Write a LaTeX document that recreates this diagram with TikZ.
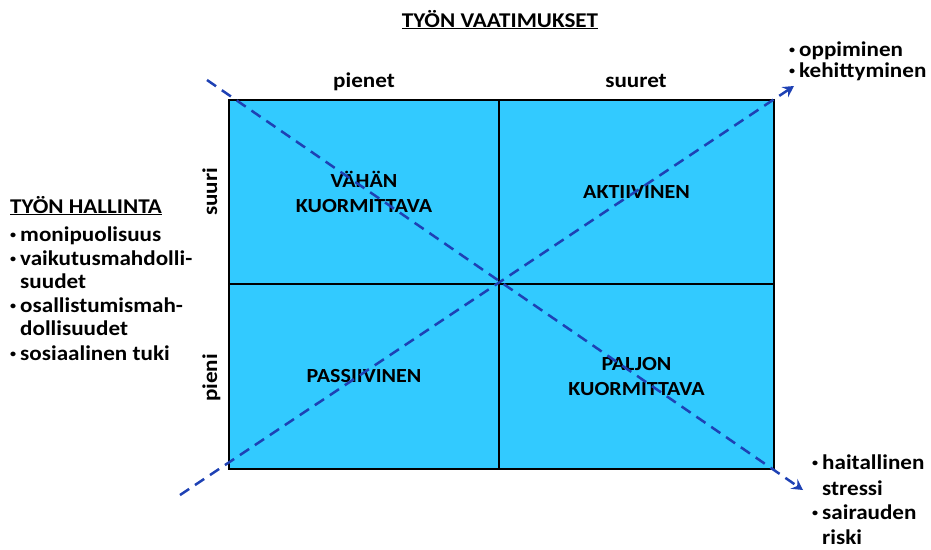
\documentclass[tikz,border=0pt]{standalone}
\usepackage{fontspec}
\setmainfont{Carlito}[FakeStretch=1.1]
\usetikzlibrary{arrows.meta,positioning}
\definecolor{sky}{RGB}{50,202,255}
\definecolor{navy}{RGB}{30,65,180}
\newcommand{\bul}{\raisebox{0.25ex}{\fontsize{11}{11}\selectfont•}\hspace{4pt}}
\tikzset{
  >={Stealth[length=11pt,width=12pt,inset=4pt]},
  quad/.style={draw=black,fill=sky,line width=1.6pt,inner sep=0pt,align=center,
    font=\bfseries\fontsize{20}{25}\selectfont},
  lbl/.style={font=\bfseries\fontsize{21}{25}\selectfont,inner sep=0pt,
    text height=14pt,text depth=4pt},
  item/.style={lbl,anchor=west},
  diag/.style={->,draw=navy,line width=2.5pt,dash pattern=on 11pt off 7pt},
}

\begin{document}
\begin{tikzpicture}[x=1pt,y=-1pt]
    \useasboundingbox (0,0) rectangle (931,549);
    % the four fields
    \node[quad,minimum width=270pt,minimum height=184pt] (q1) at (364,192) {VÄHÄN\\KUORMITTAVA};
    \node[quad,minimum width=275pt,minimum height=184pt] (q2) at (636.5,192) {AKTIIVINEN};
    \node[quad,minimum width=270pt,minimum height=185pt] (q3) at (364,376.5) {PASSIIVINEN};
    \node[quad,minimum width=275pt,minimum height=185pt] (q4) at (636.5,376.5) {PALJON\\KUORMITTAVA};
    % axis labels
    \node[lbl] (title) at (500,22) {\underline{TYÖN VAATIMUKSET}};
    \node[lbl] (pienet) at (364,82) {pienet};
    \node[lbl] (suuret) at (636,82) {suuret};
    \node[lbl,rotate=90] (suuri) at (212,192) {suuri};
    \node[lbl,rotate=90] (pieni) at (212,378) {pieni};
    % diagonals
    \coordinate (d1) at (207,80);
    \coordinate (d2) at (803,490);
    \coordinate (e1) at (180,495);
    \coordinate (e2) at (794,86);
    \draw[diag] (d1) -- (d2);
    \draw[diag] (e1) -- (e2);
    % left list
    \node[item] (hal) at (10,208) {\underline{TYÖN HALLINTA}};
    \foreach \t/\y [count=\i] in {
      \bul monipuolisuus/236,
      \bul vaikutusmahdolli-/260,
      \hphantom{\bul}suudet/283,
      \bul osallistumismah-/307,
      \hphantom{\bul}dollisuudet/330,
      \bul sosiaalinen tuki/355}
    {
      \node[item] (h\i) at (10,\y) {\t};
    }
    % right lists
    \node[item] (o1) at (789,51) {\bul oppiminen};
    \node[item] (o2) at (789,72) {\bul kehittyminen};
    \foreach \t/\y [count=\i] in {
      \bul haitallinen/464,
      \hphantom{\bul}stressi/490,
      \bul sairauden/514,
      \hphantom{\bul}riski/539}
    {
      \node[item] (s\i) at (812,\y) {\t};
    }
\end{tikzpicture}
\end{document}
